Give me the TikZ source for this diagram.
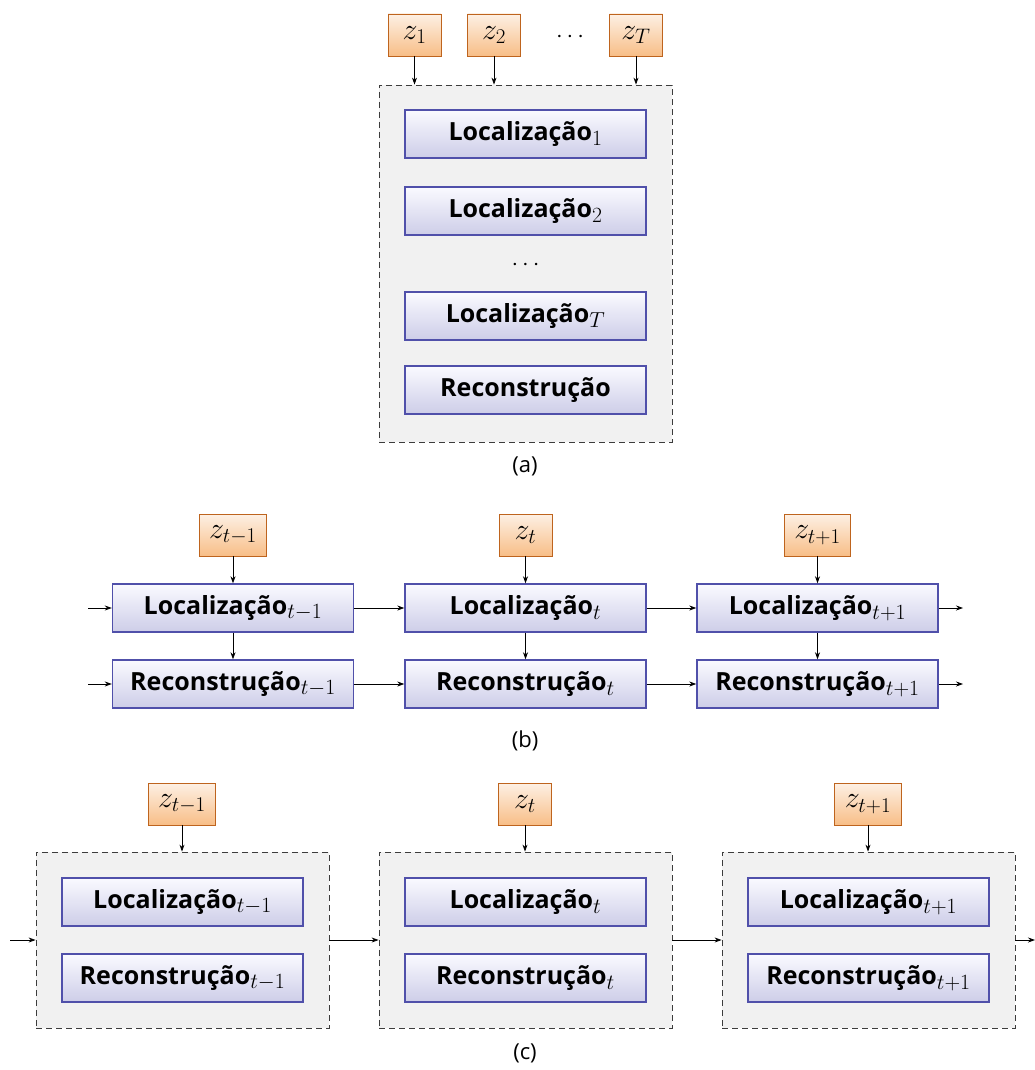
\RequirePackage{fix-cm}
\documentclass[tikz,border=0pt]{standalone}
\usepackage{fontspec}
\setmainfont{Open Sans}
\usetikzlibrary{arrows.meta}

\definecolor{boxline}{RGB}{80,80,170}
\definecolor{boxtop}{RGB}{250,250,255}
\definecolor{boxbot}{RGB}{205,205,232}
\definecolor{zline}{RGB}{190,100,30}
\definecolor{ztop}{RGB}{253,240,228}
\definecolor{zbot}{RGB}{248,190,135}
\definecolor{contfill}{RGB}{241,241,241}
\definecolor{contline}{RGB}{60,60,60}

% step index set in a larger math size
\newcommand{\stepidx}[1]{{\fontsize{31}{34}\selectfont$_{#1}$}}

\tikzset{
  every node/.style={font=\fontsize{24}{28}\selectfont},
  stagebox/.style={draw=boxline, line width=1.4pt, top color=boxtop, bottom color=boxbot,
    minimum width=241pt, minimum height=48pt, inner sep=0pt, font=\fontsize{25}{28}\selectfont\bfseries},
  zbox/.style={draw=zline, line width=0.9pt, top color=ztop, bottom color=zbot,
    minimum width=53pt, minimum height=42pt, inner xsep=10pt, inner ysep=0pt,
    font=\fontsize{30}{34}\selectfont},
  cont/.style={draw=contline, fill=contfill, dashed, dash pattern=on 6pt off 4pt, line width=0.8pt,
    minimum width=293pt, inner sep=0pt},
  flow/.style={-{Stealth[length=7pt,width=5pt]}, line width=0.8pt},
  caption/.style={font=\fontsize{22}{26}\selectfont}
}

\begin{document}
\begin{tikzpicture}[x=1pt,y=-1pt]
\useasboundingbox (0,0) rectangle (1035,1070);

% ---------- (a) single pass over all steps ----------
\node[cont, minimum height=357pt] (A) at (525.5,263.5) {};
\node[zbox] (az1) at (414.5,35) {$z_1$};
\node[zbox] (az2) at (494,35) {$z_2$};
\node (adots) at (570,37) {$\cdots$};
\node[zbox] (azT) at (636,35) {$z_T$};
\node[stagebox] (aL1) at (525.5,134) {Localização\stepidx{1}};
\node[stagebox] (aL2) at (525.5,211) {Localização\stepidx{2}};
\node (avdots) at (525.5,265) {$\cdots$};
\node[stagebox] (aLT) at (525.5,316) {Localização\stepidx{T}};
\node[stagebox] (aR) at (525.5,390) {Reconstrução};
\foreach \z in {az1,az2,azT}
  \draw[flow] (\z.south) -- (\z.south |- A.north);
\node[caption] (capa) at (525,466) {(a)};

% ---------- (b) recurrent chain of steps ----------
\foreach \n/\x/\s in {p/233/{t-1}, c/525.5/{t}, n/817.5/{t+1}} {
  \node[zbox] (bz\n) at (\x,535) {$z_{\s}$};
  \node[stagebox] (bL\n) at (\x,608) {Localização\stepidx{\s}};
  \node[stagebox] (bR\n) at (\x,684) {Reconstrução\stepidx{\s}};
  \draw[flow] (bz\n) -- (bL\n);
  \draw[flow] (bL\n) -- (bR\n);
}
\coordinate (bLin) at (88,608);
\coordinate (bRin) at (88,684);
\coordinate (bLout) at (963,608);
\coordinate (bRout) at (963,684);
\draw[flow] (bLin) -- (bLp);
\draw[flow] (bRin) -- (bRp);
\draw[flow] (bLp) -- (bLc);
\draw[flow] (bRp) -- (bRc);
\draw[flow] (bLc) -- (bLn);
\draw[flow] (bRc) -- (bRn);
\draw[flow] (bLn) -- (bLout);
\draw[flow] (bRn) -- (bRout);
\node[caption] (capb) at (525,741) {(b)};

% ---------- (c) grouped steps ----------
\foreach \n/\x/\zx/\s in {p/182.5/182/{t-1}, c/525.5/525/{t}, n/868.5/868/{t+1}} {
  \node[cont, minimum height=176pt] (C\n) at (\x,940) {};
  \node[zbox] (cz\n) at (\zx,804) {$z_{\s}$};
  \node[stagebox] (cL\n) at (\x,902) {Localização\stepidx{\s}};
  \node[stagebox] (cR\n) at (\x,978) {Reconstrução\stepidx{\s}};
  \draw[flow] (cz\n.south) -- (cz\n.south |- C\n.north);
}
\coordinate (cin) at (10,940);
\coordinate (cout) at (1035,940);
\draw[flow] (cin) -- (Cp);
\draw[flow] (Cp) -- (Cc);
\draw[flow] (Cc) -- (Cn);
\draw[flow] (Cn) -- (cout);
\node[caption] (capc) at (525,1053) {(c)};
\end{tikzpicture}
\end{document}
